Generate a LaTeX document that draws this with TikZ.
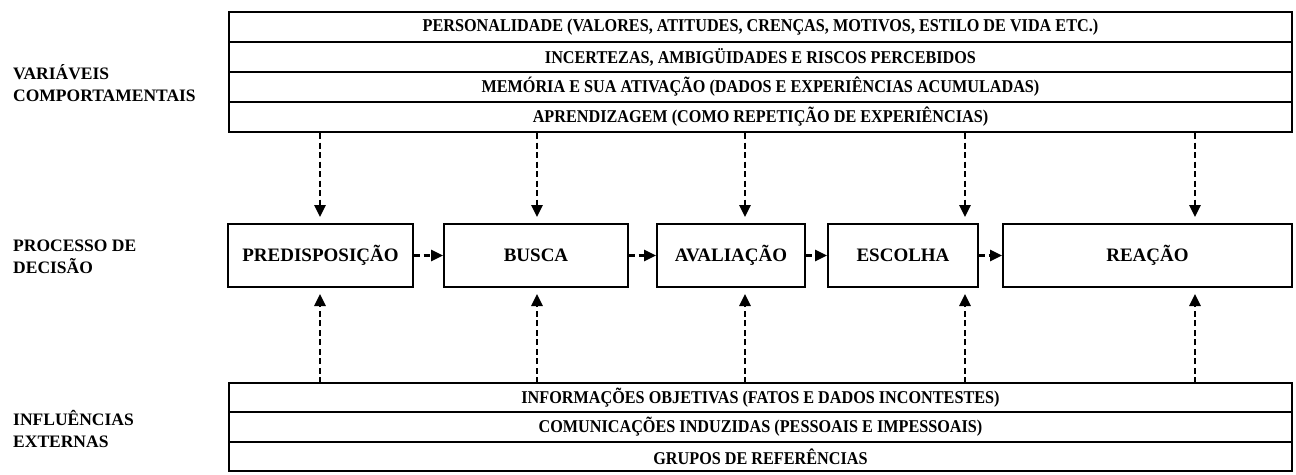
\documentclass[tikz,border=0pt]{standalone}
\usepackage{fontspec}
\setmainfont{Liberation Serif}
\newfontfamily\rowfont[FakeStretch=0.9]{Liberation Serif}
\usetikzlibrary{arrows.meta}
\begin{document}
\begin{tikzpicture}[x=1pt,y=-1pt,
  rowbox/.style={draw,line width=2pt,minimum width=1063pt,inner sep=0pt,font=\rowfont\fontsize{18}{18}\selectfont\bfseries},
  procbox/.style={draw,line width=2pt,inner sep=0pt,minimum height=63pt,font=\fontsize{19}{19}\selectfont\bfseries},
  sidelabel/.style={anchor=west,align=left,inner sep=0pt,font=\fontsize{17.5}{22}\selectfont\bfseries},
  flow/.style={line width=2.6pt,dash pattern=on 6pt off 3.5pt,-{Triangle[length=12pt,width=11pt]}}]
\useasboundingbox (0,0) rectangle (1296,474);
% behavioural variables
\node[rowbox,minimum height=30pt] (v1) at (760.5,27) {PERSONALIDADE (VALORES, ATITUDES, CRENÇAS, MOTIVOS, ESTILO DE VIDA ETC.)};
\node[rowbox,minimum height=30pt] (v2) at (760.5,57) {INCERTEZAS, AMBIGÜIDADES E RISCOS PERCEBIDOS};
\node[rowbox,minimum height=30pt] (v3) at (760.5,87) {MEMÓRIA E SUA ATIVAÇÃO (DADOS E EXPERIÊNCIAS ACUMULADAS)};
\node[rowbox,minimum height=30pt] (v4) at (760.5,117) {APRENDIZAGEM (COMO REPETIÇÃO DE EXPERIÊNCIAS)};
% decision process
\node[procbox,minimum width=185pt] (p1) at (320.5,255.5) {PREDISPOSIÇÃO};
\node[procbox,minimum width=184pt] (p2) at (536,255.5) {BUSCA};
\node[procbox,minimum width=148pt] (p3) at (731,255.5) {AVALIAÇÃO};
\node[procbox,minimum width=150pt] (p4) at (903,255.5) {ESCOLHA};
\node[procbox,minimum width=289pt] (p5) at (1147.5,255.5) {REAÇÃO};
% external influences
\node[rowbox,minimum height=29pt] (e1) at (760.5,397.5) {INFORMAÇÕES OBJETIVAS (FATOS E DADOS INCONTESTES)};
\node[rowbox,minimum height=30pt] (e2) at (760.5,427) {COMUNICAÇÕES INDUZIDAS (PESSOAIS E IMPESSOAIS)};
\node[rowbox,minimum height=29pt] (e3) at (760.5,456.5) {GRUPOS DE REFERÊNCIAS};
% side labels
\node[sidelabel] (l1) at (13,83) {VARIÁVEIS\\COMPORTAMENTAIS};
\node[sidelabel] (l2) at (13,257) {PROCESSO DE\\DECISÃO};
\node[sidelabel] (l3) at (13,429) {INFLUÊNCIAS\\EXTERNAS};
% horizontal flow
\draw[flow] (p1) -- (p2);
\draw[flow] (p2) -- (p3);
\draw[flow] (p3) -- (p4);
\draw[flow] (p4) -- (p5);
% vertical arrows
\foreach \i/\xx in {1/320,2/537,3/745,4/965,5/1195}{
  \coordinate (ta\i) at (\xx,133);
  \coordinate (ba\i) at (\xx,383);
  \draw[flow,shorten >=6pt] (ta\i) -- (ta\i |- p\i.north);
  \draw[flow,shorten >=6pt] (ba\i) -- (ba\i |- p\i.south);
}
\end{tikzpicture}
\end{document}
